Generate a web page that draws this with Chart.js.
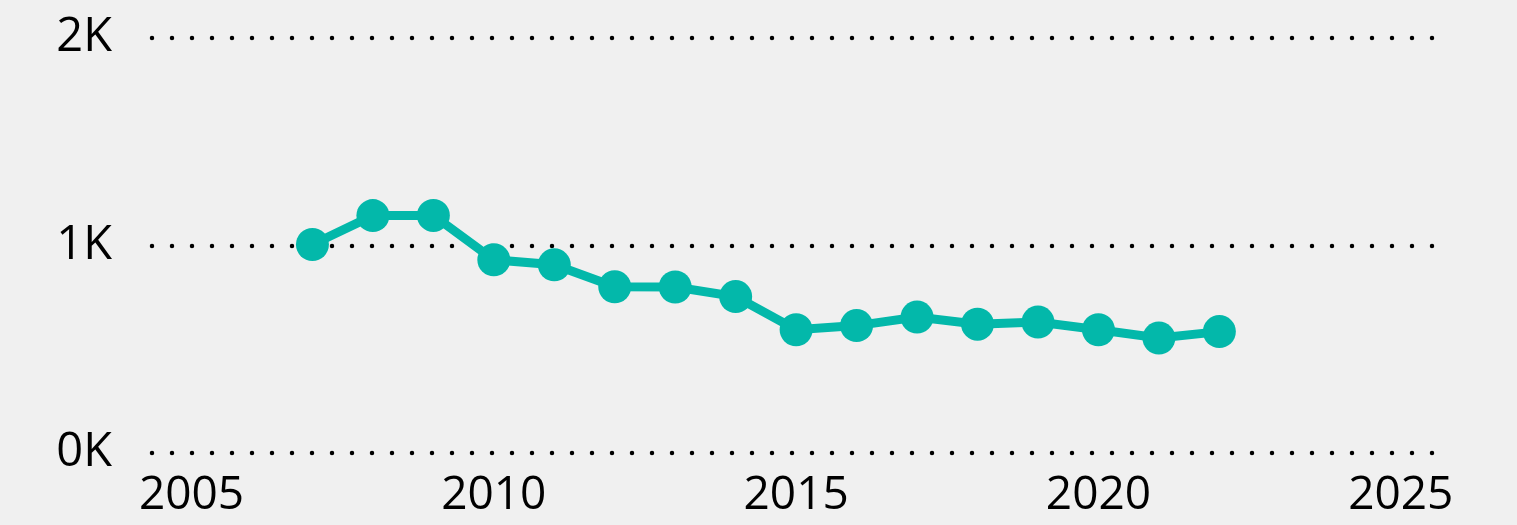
<!DOCTYPE html>
<html>
<head>
<meta charset="utf-8">
<script src="https://cdn.jsdelivr.net/npm/chart.js@4"></script>
<style>
  html, body { margin: 0; padding: 0; background: #f0f0f0; }
  #wrap { width: 1517px; height: 525px; position: relative; }
</style>
</head>
<body>
<div id="wrap"><canvas id="c"></canvas></div>
<script>
const years = [2007, 2008, 2009, 2010, 2011, 2012, 2013, 2014, 2015, 2016, 2017, 2018, 2019, 2020, 2021, 2022];
const values = [1005, 1144, 1145, 931, 907, 801, 800, 754, 594, 614, 655, 621, 631, 594, 554, 585];
const xTicks = [2005, 2010, 2015, 2020, 2025];
const yTicks = [0, 1000, 2000];
const yTickLabels = ['0K', '1K', '2K'];

const dottedGrid = {
  id: 'dottedGrid',
  beforeDatasetsDraw(chart) {
    const { ctx, chartArea, scales } = chart;
    ctx.save();
    ctx.strokeStyle = '#000';
    ctx.lineWidth = 4.5;
    ctx.lineCap = 'round';
    ctx.setLineDash([0, 20]);
    yTicks.forEach(v => {
      const y = Math.round(scales.y.getPixelForValue(v));
      ctx.beginPath();
      ctx.moveTo(chartArea.left + 1, y);
      ctx.lineTo(chartArea.right, y);
      ctx.stroke();
    });
    ctx.restore();
  }
};

new Chart(document.getElementById('c'), {
  type: 'line',
  data: {
    datasets: [{
      data: years.map((y, i) => ({ x: y, y: values[i] })),
      borderColor: '#03b8aa',
      backgroundColor: '#03b8aa',
      borderWidth: 9,
      pointRadius: 16.5,
      pointHoverRadius: 16.5,
      pointBorderWidth: 0,
      tension: 0
    }]
  },
  plugins: [dottedGrid],
  options: {
    responsive: true,
    maintainAspectRatio: false,
    animation: false,
    layout: { padding: { top: 38, right: 83, left: 0, bottom: 0 } },
    plugins: { legend: { display: false }, tooltip: { enabled: false } },
    scales: {
      x: {
        type: 'linear',
        min: 2004.33,
        max: 2025.55,
        afterBuildTicks(scale) { scale.ticks = xTicks.map(v => ({ value: v })); },
        afterFit(scale) { scale.height = 72; scale.paddingLeft = 0; scale.paddingRight = 0; },
        grid: { display: false, drawTicks: false },
        border: { display: false },
        ticks: {
          padding: 15,
          color: '#000',
          maxRotation: 0,
          autoSkip: false,
          font: { family: 'Open Sans', size: 46 },
          callback: v => String(v)
        }
      },
      y: {
        min: 0,
        max: 2000,
        afterBuildTicks(scale) { scale.ticks = yTicks.map(v => ({ value: v })); },
        afterFit(scale) { scale.width = 151; scale.paddingTop = 0; scale.paddingBottom = 0; },
        grid: { display: false, drawTicks: false },
        border: { display: false },
        ticks: {
          padding: 39,
          color: '#000',
          font: { family: 'Open Sans', size: 47 },
          callback: (v) => yTickLabels[yTicks.indexOf(v)]
        }
      }
    }
  }
});
</script>
</body>
</html>
